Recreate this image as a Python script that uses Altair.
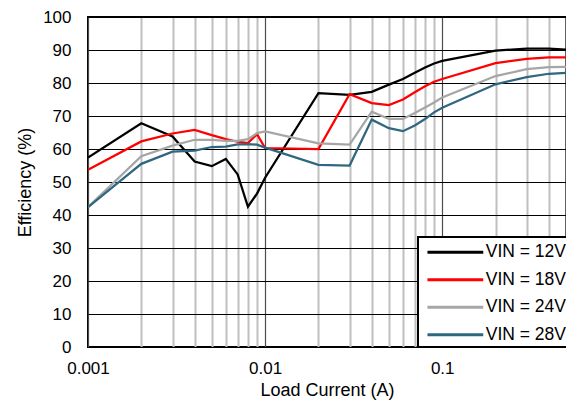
import altair as alt
import pandas as pd

x_vals = [0.001, 0.002, 0.003, 0.004, 0.005, 0.006, 0.007, 0.008, 0.009, 0.01,
          0.02, 0.03, 0.04, 0.05, 0.06, 0.07, 0.08, 0.09, 0.1, 0.2, 0.3, 0.4, 0.5]
vin12 = [57.4, 67.8, 63.8, 56.2, 54.8, 57.0, 52.3, 42.5, 46.5, 51.3,
         76.9, 76.4, 77.3, 79.5, 81.2, 83.1, 84.7, 85.9, 86.7, 89.8, 90.4, 90.4, 90.1]
vin18 = [53.7, 62.3, 64.7, 65.8, 64.2, 63.0, 62.2, 61.8, 64.5, 60.3,
         60.0, 76.6, 73.9, 73.3, 75.0, 77.2, 79.0, 80.4, 81.2, 86.0, 87.3, 87.8, 87.8]
vin24 = [42.4, 57.8, 61.0, 62.8, 62.8, 62.5, 62.5, 63.0, 64.8, 65.3,
         61.7, 61.3, 71.3, 69.1, 69.1, 70.9, 72.6, 74.1, 75.6, 82.1, 84.2, 84.8, 84.9]
vin28 = [42.4, 55.5, 59.2, 59.5, 60.6, 60.7, 61.4, 61.5, 61.3, 60.4,
         55.2, 55.0, 68.9, 66.3, 65.4, 67.1, 69.1, 71.1, 72.5, 79.6, 81.8, 82.8, 83.1]

series_names = ["VIN = 12V", "VIN = 18V", "VIN = 24V", "VIN = 28V"]
series_colors = ["#000000", "#ff0000", "#a6a6a6", "#2f6780"]
x_ticks = [m * d for d in (0.001, 0.01, 0.1) for m in range(1, 10)]
x_ticks = [t for t in x_ticks if t <= 0.5 + 1e-12]
y_ticks = list(range(0, 101, 10))

rows = []
for name, vals in zip(series_names, [vin12, vin18, vin24, vin28]):
    for xv, yv in zip(x_vals, vals):
        rows.append({"x": xv, "y": yv, "series": name, "order": series_names.index(name)})
df = pd.DataFrame(rows)

FONT = "Liberation Sans"
is_decade = "abs(log(datum.value)/LN10 - round(log(datum.value)/LN10)) < 0.001"

chart = alt.Chart(df).mark_line(strokeWidth=2.25, clip=True).encode(
    x=alt.X("x:Q",
            scale=alt.Scale(type="log", domain=[0.001, 0.5], nice=False),
            axis=alt.Axis(
                title="Load Current (A)",
                values=x_ticks,
                labelExpr=f"({is_decade}) ? format(datum.value, '~g') : ''",
                ticks=False,
                domain=False,
                labelPadding=13,
                labelFontSize=17,
                titleFontSize=18,
                titleFontWeight="normal",
                titlePadding=5,
                labelFont=FONT,
                titleFont=FONT,
                labelColor="#000000",
                titleColor="#000000",
                grid=True,
                gridColor={"condition": {"test": is_decade, "value": "#4d4d4d"}, "value": "#bfbfbf"},
                gridWidth={"condition": {"test": is_decade, "value": 1.2}, "value": 2},
                gridOpacity=1,
                labelFlush=False,
                labelOverlap=False,
            )),
    y=alt.Y("y:Q",
            scale=alt.Scale(domain=[0, 100], nice=False),
            axis=alt.Axis(
                title="Efficiency (%)",
                values=y_ticks,
                ticks=False,
                domain=False,
                labelPadding=17,
                labelFontSize=17,
                titleFontSize=18,
                titleFontWeight="normal",
                titlePadding=8,
                labelFont=FONT,
                titleFont=FONT,
                labelColor="#000000",
                titleColor="#000000",
                grid=True,
                gridColor="#000000",
                gridWidth=1,
                gridOpacity=1,
            )),
    color=alt.Color("series:N",
                    scale=alt.Scale(domain=series_names, range=series_colors),
                    legend=alt.Legend(
                        title=None,
                        orient="none",
                        legendX=330,
                        legendY=220,
                        symbolType="M-0.58,0H5.0",
                        symbolSize=400,
                        symbolStrokeWidth=3,
                        labelFontSize=17.5,
                        labelFont=FONT,
                        labelColor="#000000",
                        labelOffset=41,
                        rowPadding=7.5,
                        padding=3.75,
                        fillColor="#ffffff",
                        strokeColor="#000000",
                    )),
    order=alt.Order("order:Q"),
    detail="series:N",
).properties(
    width=478,
    height=330,
    autosize=alt.AutoSizeParams(type="none"),
    padding={"left": 80, "top": 9, "right": 0, "bottom": 56},
).configure_view(
    stroke="#000000",
    strokeWidth=2,
).configure_legend(
    strokeWidth=2,
)

chart.save("out.html", embed_options={"renderer": "svg", "actions": False})
